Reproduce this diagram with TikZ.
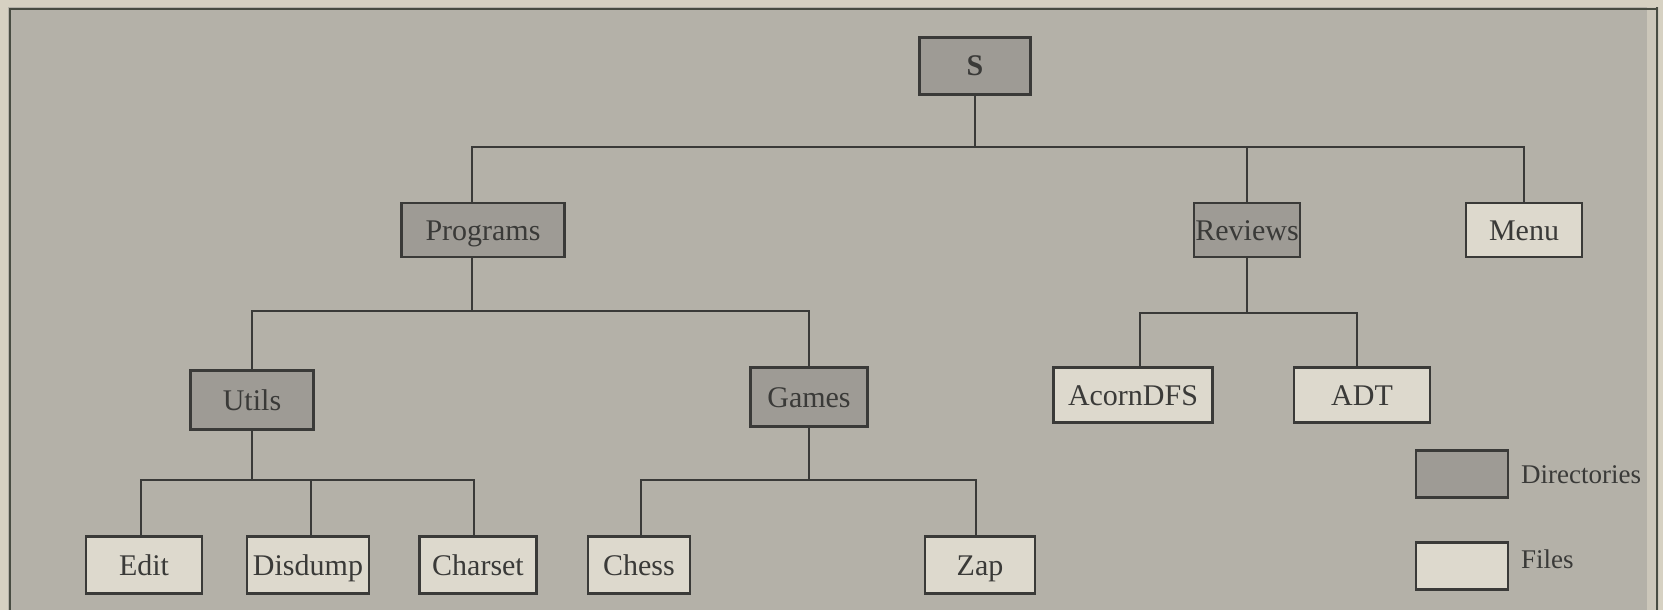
\documentclass[tikz,border=0pt]{standalone}
\usepackage{fontspec}
\setmainfont{Liberation Serif}
\definecolor{paper}{RGB}{180,177,168}
\definecolor{margin}{RGB}{214,209,194}
\definecolor{dirfill}{RGB}{158,155,149}
\definecolor{filefill}{RGB}{221,217,205}
\definecolor{ink}{RGB}{58,58,56}
\definecolor{frameink}{RGB}{72,76,66}
\tikzset{
  box/.style={draw=ink, line width=2.4pt, inner sep=0pt, minimum height=55pt,
    font=\fontsize{30}{35}\selectfont, text=ink, text height=24pt, text depth=4pt},
  dirbox/.style={box, fill=dirfill},
  filebox/.style={box, fill=filefill},
  link/.style={draw=ink, line width=2.2pt},
  legendtext/.style={anchor=west, inner sep=0pt, font=\fontsize{27}{32}\selectfont, text=ink}
}
\begin{document}
\begin{tikzpicture}[x=1pt,y=-1pt]
\useasboundingbox (0,0) rectangle (1663,610);
% paper
\fill[paper] (0,0) rectangle (1663,610);
\fill[margin] (0,0) rectangle (8,610);
\fill[margin!70!paper] (1647,0) rectangle (1663,610);
\fill[margin] (1659,0) rectangle (1663,610);
\draw[frameink, line width=1.2pt] (1657,0) -- (1657,610);
\fill[margin] (0,0) rectangle (1663,7);
\draw[frameink, line width=2.4pt] (10,610) -- (10,9) -- (1657,9);

% nodes
\node[dirbox, minimum width=111pt, minimum height=57pt] (S) at (975,66) {\textbf{S}};
\node[dirbox, minimum width=163pt, minimum height=54pt] (Programs) at (483,230) {Programs};
\node[dirbox, minimum width=106pt, minimum height=54pt] (Reviews) at (1247,230) {Reviews};
\node[filebox, minimum width=116pt, minimum height=54pt] (Menu) at (1524,230) {Menu};
\node[dirbox, minimum width=123pt, minimum height=59pt] (Utils) at (252,400) {Utils};
\node[dirbox, minimum width=117pt, minimum height=59pt] (Games) at (809,397) {Games};
\node[filebox, minimum width=159pt] (AcornDFS) at (1133,395) {AcornDFS};
\node[filebox, minimum width=136pt] (ADT) at (1362,395) {ADT};
\node[filebox, minimum width=116pt, minimum height=57pt] (Edit) at (144,565) {Edit};
\node[filebox, minimum width=122pt, minimum height=57pt] (Disdump) at (308,565) {Disdump};
\node[filebox, minimum width=117pt, minimum height=57pt] (Charset) at (478,565) {Charset};
\node[filebox, minimum width=102pt, minimum height=57pt] (Chess) at (639,565) {Chess};
\node[filebox, minimum width=110pt, minimum height=57pt] (Zap) at (980,565) {Zap};

% legend
\node[dirbox, minimum width=92pt, minimum height=47pt] (LDir) at (1462,474) {};
\node[filebox, minimum width=92pt, minimum height=47pt] (LFile) at (1462,566) {};
\node[legendtext] (LDirT) at (1521,475) {Directories};
\node[legendtext] (LFileT) at (1521,559) {Files};

% bus levels
\coordinate (b1) at (0,147);
\coordinate (b2) at (0,311);
\coordinate (b3) at (0,313);
\coordinate (b4) at (0,480);

% stem points
\coordinate (pN) at ([xshift=-11pt]Programs.north);
\coordinate (pS) at ([xshift=-11pt]Programs.south);
\coordinate (aN) at ([xshift=7pt]AcornDFS.north);
\coordinate (dN) at ([xshift=-5pt]ADT.north);
\coordinate (cN) at ([xshift=-4pt]Charset.north);
\coordinate (zN) at ([xshift=-4pt]Zap.north);
\coordinate (eN) at ([xshift=-3pt]Edit.north);
\coordinate (gN) at ([xshift=2pt]Chess.north);

% connectors
\draw[link] (S.south) -- (S.south |- b1);
\draw[link] (pN) |- (Menu.north |- b1) -- (Menu.north);
\draw[link] (Reviews.north) -- (Reviews.north |- b1);

\draw[link] (pS) -- (pS |- b2);
\draw[link] (Utils.north) |- (Games.north |- b2) -- (Games.north);

\draw[link] (Reviews.south) -- (Reviews.south |- b3);
\draw[link] (aN) |- (dN |- b3) -- (dN);

\draw[link] (Utils.south) -- (Utils.south |- b4);
\draw[link] (eN) |- (cN |- b4) -- (cN);
\draw[link] ([xshift=3pt]Disdump.north) -- ([xshift=3pt]Disdump.north |- b4);

\draw[link] (Games.south) -- (Games.south |- b4);
\draw[link] (gN) |- (zN |- b4) -- (zN);
\end{tikzpicture}
\end{document}
